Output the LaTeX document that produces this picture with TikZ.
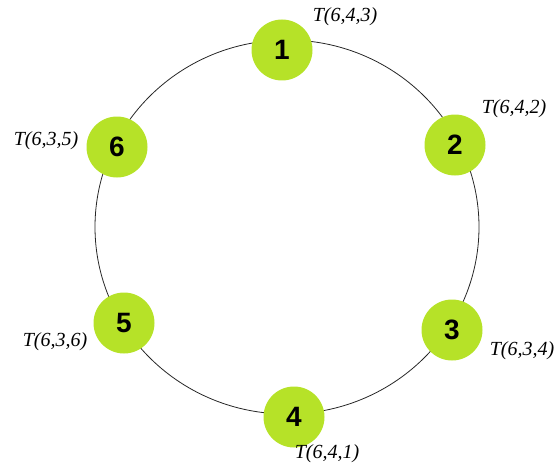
\documentclass[tikz,border=0pt]{standalone}
\usepackage{fontspec}
\setmainfont{Liberation Serif}
\newfontfamily\numfont{Liberation Sans}
\definecolor{ballgreen}{RGB}{182,226,40}
\begin{document}
\begin{tikzpicture}[x=1pt,y=-1pt,
  ball/.style={circle,fill=ballgreen,minimum size=61pt,inner sep=0pt,font=\numfont\bfseries\fontsize{28}{28}\selectfont},
  lab/.style={font=\itshape\fontsize{20}{20}\selectfont,inner sep=0pt},
  ring/.style={draw=black!85,line width=0.8pt}]
\useasboundingbox (0,0) rectangle (556,468);
\coordinate (c) at (287,227);
\draw[ring] (c) ellipse [x radius=192pt, y radius=187pt];
\node[ball] (n1) at (282,50) {1};
\node[ball] (n2) at (455,145) {2};
\node[ball] (n3) at (452,330) {3};
\node[ball] (n4) at (294,417) {4};
\node[ball] (n5) at (124,323) {5};
\node[ball] (n6) at (117,147) {6};
\node[lab] (l1) at (345,17) {T(6,4,3)};
\node[lab] (l2) at (514,109) {T(6,4,2)};
\node[lab] (l3) at (522,351) {T(6,3,4)};
\node[lab] (l4) at (327,454) {T(6,4,1)};
\node[lab] (l5) at (55,342) {T(6,3,6)};
\node[lab] (l6) at (46,141) {T(6,3,5)};
\end{tikzpicture}
\end{document}
